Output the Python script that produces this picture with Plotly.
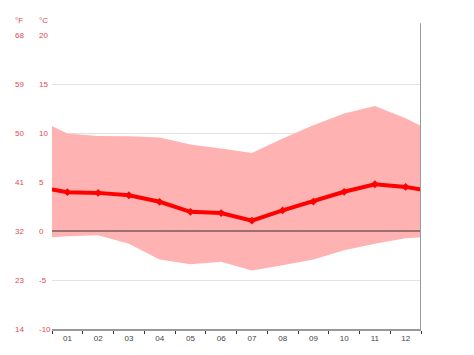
import plotly.graph_objects as go

months = ["01", "02", "03", "04", "05", "06", "07", "08", "09", "10", "11", "12"]
temp_mean = [3.96, 3.89, 3.65, 2.98, 1.96, 1.83, 1.05, 2.1, 3.0, 4.0, 4.77, 4.5]
temp_max = [9.95, 9.7, 9.68, 9.54, 8.83, 8.43, 7.97, 9.44, 10.8, 11.98, 12.76, 11.5]
temp_min = [-0.54, -0.44, -1.3, -2.9, -3.4, -3.15, -4.03, -3.5, -2.9, -1.96, -1.29, -0.74]
c_ticks = [20, 15, 10, 5, 0, -5, -10]
f_ticks = ["68", "59", "50", "41", "32", "23", "14"]

x_mid = list(range(1, 13))
x_ext = [0.5] + x_mid + [12.5]


def wrap(vals):
    edge = (vals[0] + vals[-1]) / 2
    return [edge] + list(vals) + [edge]


label_color = "rgb(228,72,80)"
fnt = "Liberation Sans, Arial, sans-serif"

fig = go.Figure()
fig.add_trace(go.Scatter(x=x_ext, y=wrap(temp_min), mode="lines", line=dict(width=0),
                         hoverinfo="skip", showlegend=False))
fig.add_trace(go.Scatter(x=x_ext, y=wrap(temp_max), mode="lines", line=dict(width=0),
                         fill="tonexty", fillcolor="rgb(255,178,178)",
                         hoverinfo="skip", showlegend=False))
fig.add_trace(go.Scatter(x=x_ext, y=wrap(temp_mean), mode="lines", line=dict(color="#ff0000", width=4),
                         hoverinfo="skip", showlegend=False))
fig.add_trace(go.Scatter(x=x_mid, y=temp_mean, mode="markers",
                         marker=dict(color="#ff0000", size=6, symbol="diamond"),
                         showlegend=False))

fig.add_shape(type="line", xref="x", yref="y", x0=0.5, x1=12.5, y0=0, y1=0,
              line=dict(color="rgb(125,88,88)", width=1.5), layer="above")
fig.add_shape(type="line", xref="x", yref="paper", x0=12.5, x1=12.5, y0=0, y1=1.04,
              line=dict(color="#999999", width=2), layer="above")

# left labels
for c, f in zip(c_ticks, f_ticks):
    fig.add_annotation(x=-0.041, xref="paper", y=c, yref="y", text=str(c), showarrow=False,
                       xanchor="left", yanchor="middle", font=dict(size=8, color=label_color, family=fnt))
    fig.add_annotation(x=-0.106, xref="paper", y=c, yref="y", text=f, showarrow=False,
                       xanchor="left", yanchor="middle", font=dict(size=8, color=label_color, family=fnt))
fig.add_annotation(x=-0.106, xref="paper", y=1.05, yref="paper", text="°F", showarrow=False,
                   xanchor="left", yanchor="middle", font=dict(size=8, color=label_color, family=fnt))
fig.add_annotation(x=-0.041, xref="paper", y=1.05, yref="paper", text="°C", showarrow=False,
                   xanchor="left", yanchor="middle", font=dict(size=8, color=label_color, family=fnt))

fig.update_layout(
    width=474, height=355,
    margin=dict(l=52, r=53, t=35, b=23),
    paper_bgcolor="white", plot_bgcolor="white",
    xaxis=dict(range=[0.5, 12.5], tickmode="array", tickvals=x_mid, ticktext=months,
               ticks="", showgrid=False, zeroline=False,
               showline=True, linecolor="#999999", linewidth=2,
               tickfont=dict(size=8, color="#444444", family=fnt),
               minor=dict(tickmode="array", tickvals=[i + 0.5 for i in range(13)],
                          ticks="outside", ticklen=3, tickcolor="#333333", tickwidth=1, showgrid=False)),
    yaxis=dict(range=[-10, 20], tickmode="array", tickvals=c_ticks, showticklabels=False,
               showgrid=True, gridcolor="#e2e2e2", gridwidth=1, zeroline=False, ticks=""),
)

fig.write_html("out.html", config={"displayModeBar": False},
               post_script="document.body.style.margin='0px';document.body.style.overflow='hidden';")
